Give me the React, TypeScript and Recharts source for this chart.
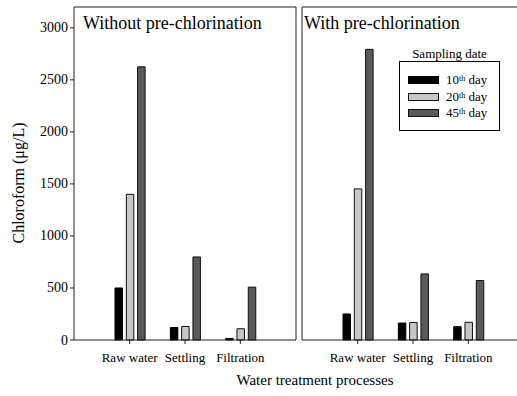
import React from 'react';
import { BarChart, Bar, XAxis, YAxis } from 'recharts';

const categories = ['Raw water', 'Settling', 'Filtration'];
const without10 = [500, 120, 15];
const without20 = [1400, 130, 108];
const without45 = [2625, 798, 508];
const with10 = [250, 163, 128];
const with20 = [1452, 168, 170];
const with45 = [2793, 635, 572];
const yTicks = [0, 500, 1000, 1500, 2000, 2500, 3000];
const seriesNames = ['10', '20', '45'];

const FONT = 'Liberation Serif, Times New Roman, serif';
const fills = ['#000000', '#c6c6c6', '#595959'];
const strokes = ['#000000', '#111111', '#111111'];

const build = (a: number[], b: number[], c: number[]) =>
  categories.map((cat, i) => ({ cat, d10: a[i], d20: b[i], d45: c[i] }));

const leftData = build(without10, without20, without45);
const rightData = build(with10, with20, with45);

const axisStroke = '#222';
const lineProps = { stroke: axisStroke, strokeWidth: 1 };

const XTick = (props: any) => {
  const { x, y, payload } = props;
  return (
    <text x={x} y={y} dy={10} textAnchor="middle" fill="#000" style={{ fontFamily: FONT, fontSize: 13 }}>
      {payload.value}
    </text>
  );
};

const YTick = (props: any) => {
  const { x, y, payload } = props;
  return (
    <text x={x} y={y} dy={4.5} textAnchor="end" fill="#000" style={{ fontFamily: FONT, fontSize: 14 }}>
      {payload.value}
    </text>
  );
};

const LegendBox = () => (
  <div style={{ fontFamily: FONT, color: '#000', width: 101 }}>
    <div style={{ textAlign: 'center', fontSize: 13, lineHeight: '14px' }}>Sampling date</div>
    <div style={{ border: '1px solid #000', height: 70, boxSizing: 'border-box', paddingTop: 10, paddingLeft: 8 }}>
      {seriesNames.map((n, i) => (
        <div key={n} style={{ display: 'flex', alignItems: 'center', height: 16.5 }}>
          <div style={{ width: 29, height: 6, background: fills[i], border: `1px solid ${strokes[i]}` }} />
          <span style={{ marginLeft: 7, fontSize: 13, lineHeight: '14px' }}>
            {n}
            <sup style={{ fontSize: 8, verticalAlign: 'top', position: 'relative', top: -1 }}>th</sup> day
          </span>
        </div>
      ))}
    </div>
  </div>
);

const renderBars = () =>
  ['d10', 'd20', 'd45'].map((k, i) => (
    <Bar
      key={k}
      dataKey={k}
      fill={fills[i]}
      stroke={strokes[i]}
      strokeWidth={1}
      barSize={7.5}
      isAnimationActive={false}
    />
  ));

export default function App() {
  return (
    <div
      style={{
        position: 'fixed',
        left: 0,
        top: 0,
        width: 517,
        height: 396,
        overflow: 'hidden',
        background: '#fff',
        fontFamily: FONT,
      }}
    >
      <div style={{ position: 'absolute', left: 0, top: 0 }}>
        <BarChart
          width={300}
          height={396}
          data={leftData}
          margin={{ top: 6, right: 3, bottom: 26, left: 34 }}
          barGap={3.8}
        >
          <XAxis
            dataKey="cat"
            padding={{ left: 28, right: 28 }}
            axisLine={lineProps}
            tickLine={lineProps}
            tickSize={4}
            tickMargin={8}
            height={30}
            tick={<XTick />}
            interval={0}
          />
          <XAxis xAxisId="top" orientation="top" dataKey="cat" axisLine={lineProps} tick={false} tickLine={false} height={1} />
          <YAxis
            domain={[0, 3200]}
            ticks={yTicks}
            axisLine={lineProps}
            tickLine={lineProps}
            tickSize={4}
            tickMargin={2}
            width={40}
            tick={<YTick />}
            interval={0}
          />
          <YAxis yAxisId="r" orientation="right" domain={[0, 3200]} axisLine={lineProps} tick={false} tickLine={false} width={1} />
          {renderBars()}
        </BarChart>
      </div>
      <div style={{ position: 'absolute', left: 297, top: 0 }}>
        <BarChart
          width={230}
          height={396}
          data={rightData}
          margin={{ top: 6, right: 3, bottom: 26, left: 4 }}
          barGap={3.8}
        >
          <XAxis
            dataKey="cat"
            padding={{ left: 28, right: 28 }}
            axisLine={lineProps}
            tickLine={lineProps}
            tickSize={4}
            tickMargin={8}
            height={30}
            tick={<XTick />}
            interval={0}
          />
          <XAxis xAxisId="top" orientation="top" dataKey="cat" axisLine={lineProps} tick={false} tickLine={false} height={1} />
          <YAxis domain={[0, 3200]} ticks={yTicks} axisLine={lineProps} tick={false} tickLine={false} width={1} />
          {renderBars()}
        </BarChart>
      </div>
      <div style={{ position: 'absolute', left: 399, top: 47 }}>
        <LegendBox />
      </div>
      <div style={{ position: 'absolute', left: 83, top: 13, fontSize: 18, lineHeight: '20px', color: '#000', whiteSpace: 'nowrap' }}>
        Without pre-chlorination
      </div>
      <div style={{ position: 'absolute', left: 304, top: 13, fontSize: 18, lineHeight: '20px', color: '#000', whiteSpace: 'nowrap' }}>
        With pre-chlorination
      </div>
      <div style={{ position: 'absolute', left: 215, width: 200, top: 371, textAlign: 'center', fontSize: 15, lineHeight: '18px', color: '#000', whiteSpace: 'nowrap' }}>
        Water treatment processes
      </div>
      <div
        style={{
          position: 'absolute',
          left: 19,
          top: 183,
          transform: 'translate(-50%, -50%) rotate(-90deg)',
          fontSize: 16,
          lineHeight: '18px',
          color: '#000',
          whiteSpace: 'nowrap',
        }}
      >
        Chloroform (μg/L)
      </div>
    </div>
  );
}
